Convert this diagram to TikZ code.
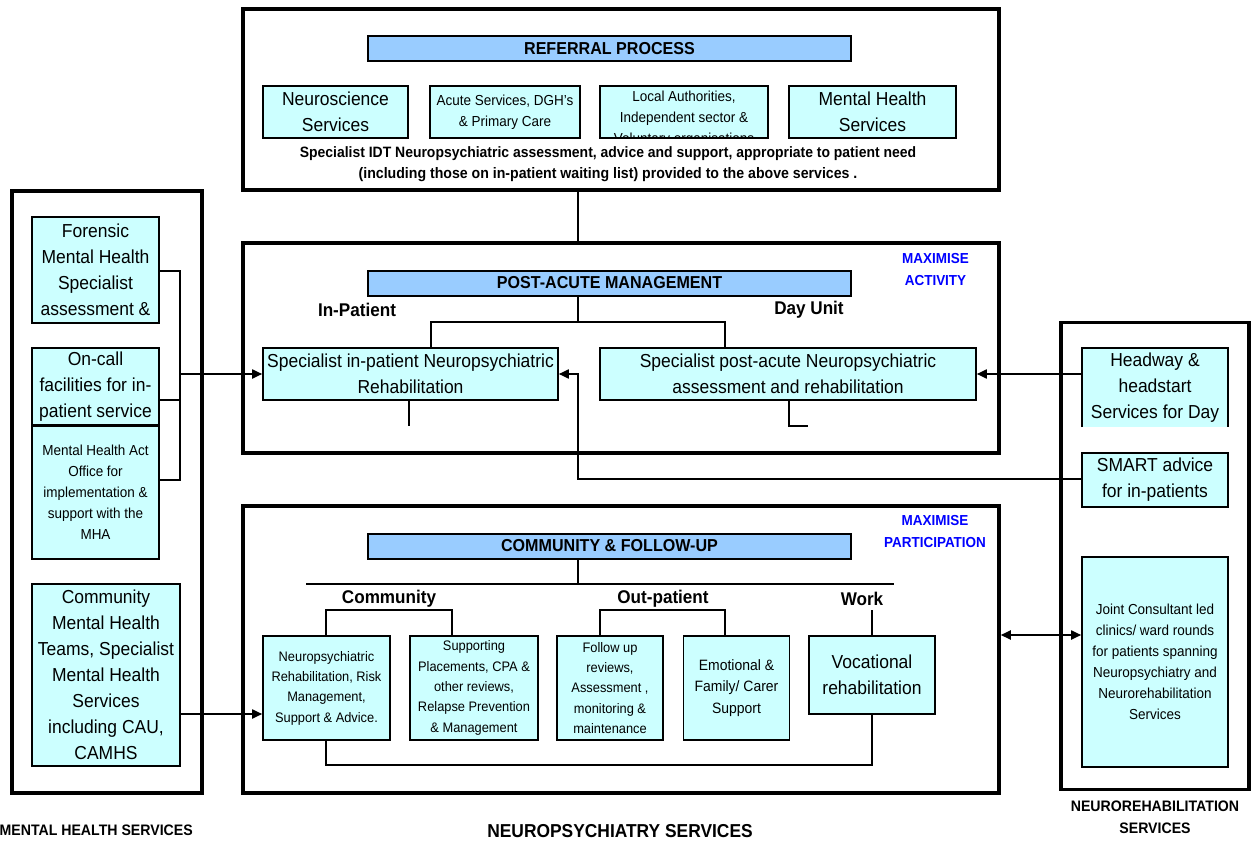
\documentclass[tikz,border=0pt]{standalone}
\usepackage{fontspec}
\setmainfont{Liberation Sans}[FakeStretch=0.93]
\usetikzlibrary{arrows.meta,calc}
\definecolor{boxfill}{HTML}{CCFFFF}
\definecolor{headfill}{HTML}{99CCFF}
\definecolor{maxblue}{HTML}{0000FF}
\newcommand\fbig{\fontsize{18.8}{26}\selectfont}
\newcommand\fmid{\fontsize{14.5}{21}\selectfont}
\newcommand\fsm{\fontsize{13.8}{20.3}\selectfont}
\newcommand\fhead{\bfseries\fontsize{17.3}{20}\selectfont}
\begin{document}
\begin{tikzpicture}[x=1pt,y=-1pt,
  outer/.style={draw, line width=3.5pt, inner sep=0pt},
  box/.style={draw, line width=1.6pt, fill=boxfill, inner sep=0pt, align=center},
  head/.style={draw, line width=2pt, fill=headfill, inner sep=0pt, minimum width=483, minimum height=25, font=\fhead},
  conn/.style={line width=1.8pt},
  arr/.style={conn, -{Triangle[length=10pt,width=9pt]}},
  darr/.style={conn, {Triangle[length=10pt,width=9pt]}-{Triangle[length=10pt,width=9pt]}},
  lbl/.style={inner sep=0pt, align=center, font=\bfseries\fontsize{18.4}{20}\selectfont},
  maxl/.style={inner sep=0pt, align=center, text=maxblue, font=\bfseries\fontsize{14.5}{22}\selectfont},
  foot/.style={inner sep=0pt, align=center, font=\bfseries\fontsize{15.2}{22}\selectfont}
]
\useasboundingbox (0,0) rectangle (1259,843);

% outer frames
\node[outer, minimum width=756, minimum height=181] (ref) at (621,99.5) {};
\node[outer, minimum width=756, minimum height=210] (post) at (621,348) {};
\node[outer, minimum width=756, minimum height=287] (comm) at (621,649.5) {};
\node[outer, minimum width=190, minimum height=602] (left) at (107,492) {};
\node[outer, minimum width=188, minimum height=467] (right) at (1155,556) {};

\coordinate (spine) at (578,0);

% ---------- referral ----------
\node[head] (rhead) at (609.5,48.5) {REFERRAL PROCESS};
\node[box, font=\fbig, minimum width=145, minimum height=52] (neuro) at (335.5,112) {Neuroscience\\Services};
\node[box, font=\fmid, minimum width=150, minimum height=52] (acute) at (505,112) {Acute Services, DGH's\\\& Primary Care};
\node[box, minimum width=168, minimum height=52] (local) at (684,112) {};
\begin{scope}
  \clip (local.south west) rectangle (local.north east);
  \node[inner sep=0pt, align=center, font=\fmid] (localtxt) at (684,119) {Local Authorities,\\Independent sector \&\\Voluntary organisations};
\end{scope}
\node[box, font=\fbig, minimum width=167, minimum height=52] (mhs) at (872.5,112) {Mental Health\\Services};
\node[inner sep=0pt, font=\bfseries\fontsize{15}{20}\selectfont] (refl1) at (608,154) {Specialist IDT Neuropsychiatric assessment, advice and support, appropriate to patient need};
\node[inner sep=0pt, font=\bfseries\fontsize{15.2}{20}\selectfont] (refl2) at (608,175) {(including those on in-patient waiting list) provided to the above services .};

\draw[conn] (ref.south -| spine) -- (post.north -| spine);

% ---------- post-acute ----------
\node[head] (phead) at (609.5,283) {POST-ACUTE MANAGEMENT};
\node[maxl] (max1) at (935.5,270) {MAXIMISE\\ACTIVITY};
\node[lbl] (inlbl) at (357,310) {In-Patient};
\node[lbl] (daylbl) at (809,310) {Day Unit};
\node[box, font=\fbig, minimum width=295, minimum height=52] (inpat) at (410.5,374) {Specialist in-patient Neuropsychiatric\\Rehabilitation};
\node[box, font=\fbig, minimum width=376, minimum height=52] (day) at (788,374) {Specialist post-acute Neuropsychiatric\\assessment and rehabilitation};
\coordinate (pL) at (431,322);
\coordinate (pR) at (725,322);
\draw[conn] (phead.south -| spine) -- (spine |- pL);
\draw[conn] (inpat.north -| pL) -- (pL) -- (pR) -- (day.north -| pR);
\coordinate (s1) at (409,426);
\coordinate (s2) at (789,426);
\coordinate (s2e) at (808,426);
\draw[conn] (inpat.south -| s1) -- (s1);
\draw[conn] (day.south -| s2) -- (s2) -- (s2e);

% ---------- left column ----------
\node[box, font=\fbig, minimum width=127, minimum height=106] (foren) at (95.5,270) {Forensic\\Mental Health\\Specialist\\assessment \&};
\node[box, font=\fbig, minimum width=127, minimum height=77] (oncall) at (95.5,386.5) {On-call\\facilities for in-\\patient service};
\node[box, font=\fmid, minimum width=127, minimum height=133] (mha) at (95.5,492.5) {Mental Health Act\\Office for\\implementation \&\\support with the\\MHA};
\node[box, font=\fbig, minimum width=148, minimum height=182] (cmh) at (106,675) {Community\\Mental Health\\Teams, Specialist\\Mental Health\\Services\\including CAU,\\CAMHS};
\coordinate (brT) at (180,271);
\coordinate (brM) at (180,400);
\coordinate (brB) at (180,480);
\coordinate (brA) at (180,374);
\draw[conn] (foren.east |- brT) -- (brT) -- (brB) -- (mha.east |- brB);
\draw[conn] (oncall.east |- brM) -- (brM);
\draw[arr] (brA) -- (inpat.west);

% ---------- right column ----------
\node[fill=boxfill, inner sep=0pt, align=center, font=\fbig, minimum width=146, minimum height=79] (headway) at (1155,387.5) {Headway \&\\headstart\\Services for Day};
\draw[line width=1.6pt] (headway.south west) -- (headway.north west) -- (headway.north east) -- (headway.south east);
\node[box, font=\fbig, minimum width=146, minimum height=54] (smart) at (1155,480) {SMART advice\\for in-patients};
\node[box, font=\fmid, minimum width=146, minimum height=210] (joint) at (1155,662) {Joint Consultant led\\clinics/ ward rounds\\for patients spanning\\Neuropsychiatry and\\Neurorehabilitation\\Services};
\draw[arr] (headway.west |- day.east) -- (day.east);
\coordinate (sm) at (578,479);
\draw[arr] (smart.west |- sm) -- (sm) -- (sm |- inpat.east) -- (inpat.east);
\coordinate (jt) at (1082,635);
\draw[darr] (comm.east |- jt) -- (joint.west |- jt);

% ---------- community ----------
\node[head] (chead) at (609.5,546) {COMMUNITY \& FOLLOW-UP};
\node[maxl] (max2) at (935,532) {MAXIMISE\\PARTICIPATION};
\coordinate (cbL) at (306,584);
\coordinate (cbR) at (894,584);
\draw[conn] (chead.south -| spine) -- (spine |- cbL);
\draw[conn] (cbL) -- (cbR);
\node[lbl] (clbl) at (389,599) {Community};
\node[lbl] (olbl) at (663,599) {Out-patient};
\node[lbl] (wlbl) at (862,599) {Work};
\node[box, font=\fsm, minimum width=127, minimum height=104] (b1) at (326.5,688) {Neuropsychiatric\\Rehabilitation, Risk\\Management,\\Support \& Advice.};
\node[box, font=\fsm, minimum width=128, minimum height=104] (b2) at (474,688) {Supporting\\Placements, CPA \&\\other reviews,\\Relapse Prevention\\\& Management};
\node[box, font=\fsm, minimum width=106, minimum height=104] (b3) at (610,688) {Follow up\\reviews,\\Assessment ,\\monitoring \&\\maintenance};
\node[box, font=\fontsize{15}{21.5}\selectfont, minimum width=106, minimum height=104] (b4) at (736.5,688) {Emotional \&\\Family/ Carer\\Support};
\node[box, font=\fbig, minimum width=126, minimum height=78] (voc) at (872,675) {Vocational\\rehabilitation};
\coordinate (cL1) at (326,610);
\coordinate (cL2) at (452,610);
\coordinate (oL1) at (600,610);
\coordinate (oL2) at (725,610);
\coordinate (wk) at (872,610);
\draw[conn] (b1.north -| cL1) -- (cL1) -- (cL2) -- (b2.north -| cL2);
\draw[conn] (b3.north -| oL1) -- (oL1) -- (oL2) -- (b4.north -| oL2);
\draw[conn] (wk) -- (voc.north);
\coordinate (lpL) at (326,765);
\coordinate (lpR) at (872,765);
\draw[conn] (b1.south -| lpL) -- (lpL) -- (lpR) -- (voc.south);
\coordinate (cmo) at (180,714);
\draw[arr] (cmh.east |- cmo) -- (b1.west |- cmo);

% ---------- footers ----------
\node[foot, anchor=east] (mhfoot) at (193,830) {MENTAL HEALTH SERVICES};
\node[foot, font=\bfseries\fontsize{18.7}{20}\selectfont] (npfoot) at (620,831) {NEUROPSYCHIATRY SERVICES};
\node[foot] (nrfoot) at (1155,817) {NEUROREHABILITATION\\SERVICES};
\end{tikzpicture}
\end{document}
